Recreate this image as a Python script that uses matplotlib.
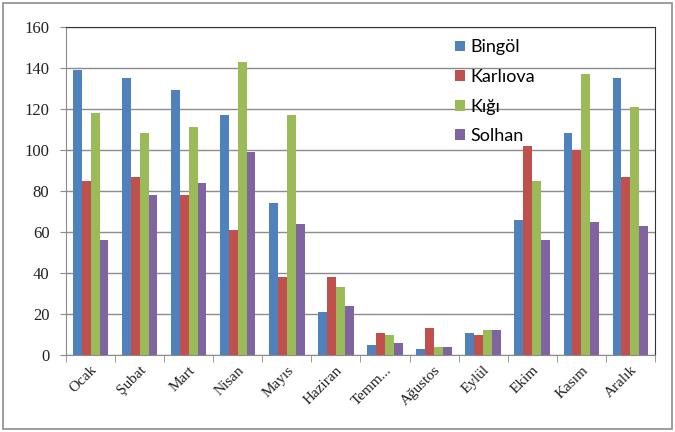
import matplotlib
matplotlib.use("Agg")
import matplotlib.pyplot as plt
import numpy as np
from matplotlib.patches import Rectangle

# monthly values per station
months = ["Ocak", "Şubat", "Mart", "Nisan", "Mayıs", "Haziran",
          "Temm...", "Ağustos", "Eylül", "Ekim", "Kasım", "Aralık"]
bingol = [139, 135, 129, 117, 74, 21, 5, 3, 11, 66, 108, 135]
karliova = [85, 87, 78, 61, 38, 38, 11, 13, 10, 102, 100, 87]
kigi = [118, 108, 111, 143, 117, 33, 10, 4, 12, 85, 137, 121]
solhan = [56, 78, 84, 99, 64, 24, 6, 4, 12, 56, 65, 63]

series = [("Bingöl", bingol, "#4F81BD"),
          ("Karlıova", karliova, "#C0504D"),
          ("Kığı", kigi, "#9BBB59"),
          ("Solhan", solhan, "#8064A2")]

fig = plt.figure(figsize=(6.75, 4.32), dpi=100)
ax = fig.add_axes([0.098, 0.178, 0.872, 0.760])

x = np.arange(len(months))
w = 0.18
for i, (name, vals, col) in enumerate(series):
    ax.bar(x + (i - 1.5) * w, vals, width=w, color=col, label=name, zorder=3)

ax.set_xlim(-0.5, len(months) - 0.5)
ax.set_ylim(0, 160)
ax.set_yticks(range(0, 161, 20))
ax.yaxis.grid(True, color="#8c8c8c", linewidth=1.0, zorder=0)

ax.set_xticks(x)
ax.set_xticks(np.arange(-0.5, len(months)), minor=True)
ax.tick_params(axis="x", which="major", length=0, pad=6)
ax.tick_params(axis="x", which="minor", length=5, color="#8c8c8c", direction="out")
ax.tick_params(axis="y", length=4, color="#8c8c8c", direction="out", pad=8)
ax.set_xticklabels(months, rotation=45, ha="right", rotation_mode="anchor",
                   family="Liberation Serif", fontsize=11, color="#222222")
for lab in ax.get_yticklabels():
    lab.set_family("Liberation Serif")
    lab.set_fontsize(12)
    lab.set_color("#222222")

ax.spines["left"].set_color("#8c8c8c")
ax.spines["bottom"].set_color("#8c8c8c")
ax.spines["top"].set_color("#333333")
ax.spines["right"].set_color("#333333")

leg = ax.legend(loc="upper left", bbox_to_anchor=(0.64, 1.0), frameon=False,
                prop={"family": "Lato", "size": 13}, handlelength=0.55,
                handleheight=0.55, handletextpad=0.3, labelspacing=0.75,
                borderaxespad=0.3)

# chart area border
fig.patches.append(Rectangle((0.005, 0.008), 0.99, 0.984, transform=fig.transFigure,
                             fill=False, edgecolor="#8c8c8c", linewidth=1.2))

fig.savefig("out.png", dpi=100)
